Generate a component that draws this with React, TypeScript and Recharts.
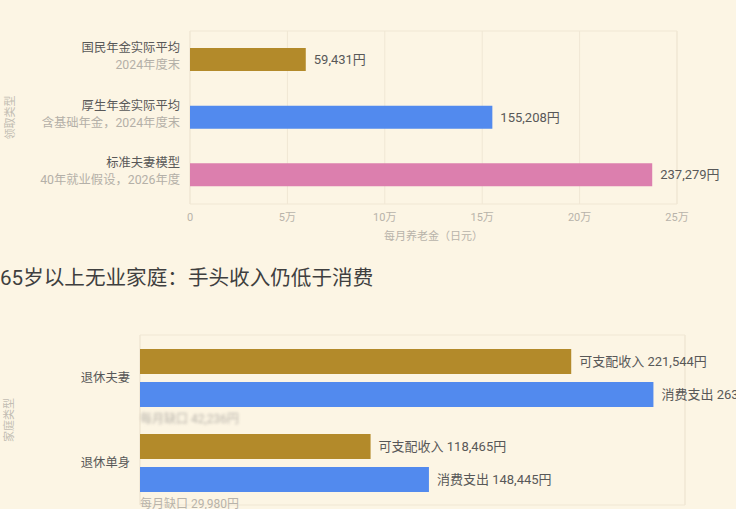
import React from 'react';
import { BarChart, Bar, XAxis, YAxis, CartesianGrid, Cell, LabelList, ReferenceArea } from 'recharts';

const pensionCategories = ['国民年金实际平均', '厚生年金实际平均', '标准夫妻模型'];
const pensionNotes = ['2024年度末', '含基础年金，2024年度末', '40年就业假设，2026年度'];
const pensionValues = [59431, 155208, 237279];
const pensionColors = ['#B38A2A', '#528AEE', '#DC7FAE'];
const pensionTicks = [0, 50000, 100000, 150000, 200000, 250000];

const householdCategories = ['退休夫妻', '退休单身'];
const incomeValues = [221544, 118465];
const spendingValues = [263780, 148445];
const householdTicks = [0, 50000, 100000, 150000, 200000, 250000];

const sectionTitle = '65岁以上无业家庭：手头收入仍低于消费';

const BG = '#FCF5E4';
const GRID = '#F0E7D4';
const FONT = "Roboto, 'Noto Sans CJK SC', sans-serif";
const GOLD = '#B38A2A';
const BLUE = '#528AEE';

const pensionData = pensionCategories.map((name, i) => ({
  name,
  note: pensionNotes[i],
  value: pensionValues[i],
}));

const householdData = householdCategories.map((name, i) => ({
  name,
  income: incomeValues[i],
  spending: spendingValues[i],
  gap: spendingValues[i] - incomeValues[i],
}));

const fmtYen = (v: number) => v.toLocaleString('en-US') + '円';
const fmtMan = (v: number) => (v === 0 ? '0' : v / 10000 + '万');

const PensionTick = (props: any) => {
  const { x, y, payload, index } = props;
  return (
    <g>
      <text x={x} y={y - 12} textAnchor="end" dominantBaseline="central" fontSize={12.3} fill="#585858" fontFamily={FONT}>
        {payload.value}
      </text>
      <text x={x} y={y + 5} textAnchor="end" dominantBaseline="central" fontSize={12.3} fill="#B4B0A8" fontFamily={FONT}>
        {pensionNotes[index]}
      </text>
    </g>
  );
};

const IncomeLabel = (props: any) => {
  const { x, y, width, height, value } = props;
  return (
    <text x={x + width + 8} y={y + height / 2} dominantBaseline="central" fontSize={13} fill="#585858" fontFamily={FONT}>
      {'可支配收入 ' + fmtYen(value)}
    </text>
  );
};

const SpendingLabel = (props: any) => {
  const { x, y, width, height, value, index } = props;
  const gap = householdData[index].gap;
  return (
    <g>
      <text x={x + width + 8} y={y + height / 2} dominantBaseline="central" fontSize={13} fill="#585858" fontFamily={FONT}>
        {'消费支出 ' + fmtYen(value)}
      </text>
      <text
        x={x}
        y={y + height + 12}
        dominantBaseline="central"
        fontSize={12}
        fill="#B8B3AA"
        fontFamily={FONT}
        style={index === 0 ? { filter: 'blur(1.4px)' } : undefined}
      >
        {'每月缺口 ' + fmtYen(gap)}
      </text>
    </g>
  );
};

export default function App() {
  return (
    <div
      style={{
        position: 'absolute',
        left: 0,
        top: 0,
        width: 736,
        height: 509,
        overflow: 'hidden',
        background: BG,
        fontFamily: FONT,
      }}
    >
      <div style={{ position: 'absolute', left: 0, top: 0 }}>
        <BarChart
          width={736}
          height={250}
          data={pensionData}
          layout="vertical"
          margin={{ top: 31, right: 59, bottom: 16, left: 0 }}
        >
          <CartesianGrid horizontal={false} stroke={GRID} />
          <ReferenceArea x1={0} x2={250000} fill="none" stroke={GRID} ifOverflow="visible" />
          <XAxis
            type="number"
            domain={[0, 250000]}
            ticks={pensionTicks}
            tickFormatter={fmtMan}
            axisLine={false}
            tickLine={false}
            tickSize={0}
            tickMargin={9}
            height={30}
            tick={{ fontSize: 11, fill: '#B8B3AA', fontFamily: FONT }}
            label={{ value: '每月养老金（日元）', position: 'bottom', offset: -2, fontSize: 11, fill: '#B8B3AA', fontFamily: FONT }}
          />
          <YAxis
            type="category"
            dataKey="name"
            width={190}
            axisLine={false}
            tickLine={false}
            tickSize={0}
            tickMargin={10}
            tick={<PensionTick />}
            label={{
              value: '领取类型',
              angle: -90,
              position: 'insideLeft',
              offset: 10,
              fontSize: 11,
              fill: '#C2BDB3',
              fontFamily: FONT,
              style: { textAnchor: 'middle' },
            }}
          />
          <Bar dataKey="value" barSize={23} isAnimationActive={false}>
            {pensionData.map((d, i) => (
              <Cell key={d.name} fill={pensionColors[i]} />
            ))}
            <LabelList
              dataKey="value"
              position="right"
              offset={8}
              formatter={(v: any) => fmtYen(v)}
              style={{ fontSize: 13, fill: '#585858', fontFamily: FONT }}
            />
          </Bar>
        </BarChart>
      </div>

      <div
        style={{
          position: 'absolute',
          left: 0,
          top: 267,
          fontSize: 20.6,
          lineHeight: '22px',
          color: '#3F3F3F',
          whiteSpace: 'nowrap',
        }}
      >
        {sectionTitle}
      </div>

      <div style={{ position: 'absolute', left: 0, top: 300 }}>
        <BarChart
          width={736}
          height={250}
          data={householdData}
          layout="vertical"
          barGap={8}
          margin={{ top: 35, right: 51, bottom: 15, left: 0 }}
        >
          <CartesianGrid horizontal={false} stroke={GRID} />
          <ReferenceArea x1={0} x2={280000} fill="none" stroke={GRID} ifOverflow="visible" />
          <XAxis
            type="number"
            domain={[0, 280000]}
            ticks={householdTicks}
            tickFormatter={fmtMan}
            axisLine={false}
            tickLine={false}
            tick={false}
            height={30}
          />
          <YAxis
            type="category"
            dataKey="name"
            width={140}
            axisLine={false}
            tickLine={false}
            tickSize={0}
            tickMargin={10}
            tick={{ fontSize: 12.3, fill: '#585858', fontFamily: FONT }}
            label={{
              value: '家庭类型',
              angle: -90,
              position: 'insideLeft',
              offset: 9,
              fontSize: 11,
              fill: '#C2BDB3',
              fontFamily: FONT,
              style: { textAnchor: 'middle' },
            }}
          />
          <Bar dataKey="income" fill={GOLD} barSize={25} isAnimationActive={false}>
            <LabelList dataKey="income" content={<IncomeLabel />} />
          </Bar>
          <Bar dataKey="spending" fill={BLUE} barSize={25} isAnimationActive={false}>
            <LabelList dataKey="spending" content={<SpendingLabel />} />
          </Bar>
        </BarChart>
      </div>
    </div>
  );
}
